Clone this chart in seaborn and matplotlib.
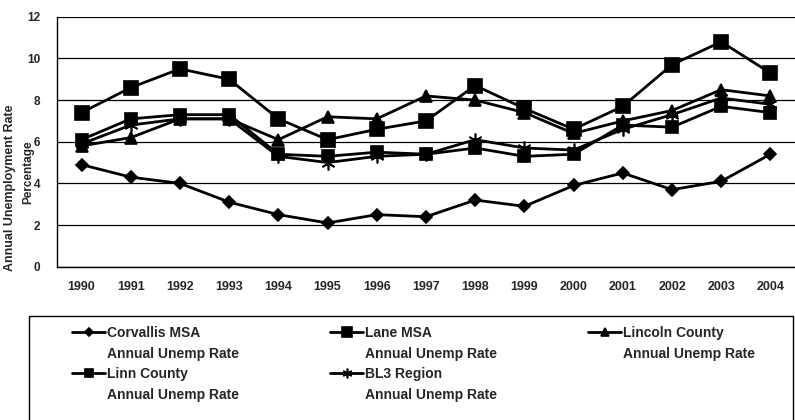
import pandas as pd
import numpy as np
import matplotlib
matplotlib.use("Agg")
import matplotlib.pyplot as plt
from matplotlib.patches import Rectangle
import seaborn as sns

years = list(range(1990, 2005))

corvallis = [4.9, 4.3, 4.0, 3.1, 2.5, 2.1, 2.5, 2.4, 3.2, 2.9, 3.9, 4.5, 3.7, 4.1, 5.4]
lane = [7.4, 8.6, 9.5, 9.0, 7.1, 6.1, 6.6, 7.0, 8.7, 7.6, 6.6, 7.7, 9.7, 10.8, 9.3]
lincoln = [5.8, 6.2, 7.1, 7.1, 6.1, 7.2, 7.1, 8.2, 8.0, 7.4, 6.4, 7.0, 7.5, 8.5, 8.2]
linn = [6.1, 7.1, 7.3, 7.3, 5.4, 5.3, 5.5, 5.4, 5.7, 5.3, 5.4, 6.8, 6.7, 7.7, 7.4]
bl3 = [5.9, 6.8, 7.1, 7.1, 5.3, 5.0, 5.3, 5.4, 6.1, 5.7, 5.6, 6.6, 7.3, 8.1, 7.8]

series_names = ["Corvallis MSA", "Lane MSA", "Lincoln County", "Linn County", "BL3 Region"]
series_sub = "Annual Unemp Rate"
series_values = [corvallis, lane, lincoln, linn, bl3]

sns.set_style("white")
plt.rcParams["font.family"] = ["Liberation Sans Narrow", "Liberation Sans", "DejaVu Sans"]

markers = ["D", "s", "^", "s", (6, 2, 0)]
msizes = [6, 10, 8, 8, 10]

fig = plt.figure(figsize=(7.95, 4.2), dpi=100)
ax = fig.add_axes([0.0717, 0.365, 0.9283, 0.595])

for name, vals, mk, ms in zip(series_names, series_values, markers, msizes):
    df = pd.DataFrame({"year": years, "rate": vals})
    sns.lineplot(data=df, x="year", y="rate", ax=ax, color="black", linewidth=2,
                 marker=mk, markersize=ms, markeredgecolor="black",
                 markeredgewidth=1.2, label=name)

ax.set_xlim(1989.5, 2004.5)
ax.set_ylim(0, 12)
ax.set_yticks(range(0, 13, 2))
ax.set_xticks(years)
ax.set_xticks(np.arange(1989.5, 2005, 1), minor=True)
ax.tick_params(axis="x", which="major", length=0, pad=10, labelsize=9)
ax.tick_params(axis="x", which="minor", length=4, width=1, direction="out", color="black")
ax.tick_params(axis="y", length=4, width=1, direction="out", color="black", labelsize=8.5, pad=8)
for lbl in ax.get_xticklabels() + ax.get_yticklabels():
    lbl.set_fontweight("bold")
ax.yaxis.grid(True, color="black", linewidth=0.9)
for s in ["top", "right"]:
    ax.spines[s].set_visible(False)
for s in ["left", "bottom"]:
    ax.spines[s].set_color("black")
    ax.spines[s].set_linewidth(1)
ax.set_xlabel("")
ax.set_ylabel("")

fig.text(0.012, 0.552, "Annual Unemployment Rate", rotation=90, ha="center", va="center",
         fontsize=9, fontweight="bold")
fig.text(0.036, 0.59, "Percentage", rotation=90, ha="center", va="center",
         fontsize=8.5, fontweight="bold")

# legend box
W, H = 795.0, 420.0
fig.add_artist(Rectangle((29 / W, -0.05), (793 - 29) / W, (1 - 316 / H) + 0.05,
                         transform=fig.transFigure, fill=False, edgecolor="black",
                         linewidth=1, clip_on=False))

h, l = ax.get_legend_handles_labels()
ax.get_legend().remove()
# (handle start x px, first line y px) for each series
slots = [(72, 333), (330, 333), (588, 333), (72, 374), (330, 374)]
legs = []
for hd, lb, (px, py) in zip(h, l, slots):
    leg = fig.legend([hd], [lb], loc="center left", bbox_to_anchor=(px / W, 1 - py / H),
                     frameon=False, fontsize=10, handlelength=2.4, handletextpad=0.15,
                     borderpad=0, borderaxespad=0, markerscale=0.7)
    leg.get_texts()[0].set_fontweight("bold")
    legs.append((leg, py))

fig.canvas.draw()
for leg, py in legs:
    bb = leg.get_texts()[0].get_window_extent()
    fig.text(bb.x0 / W, 1 - (py + 21) / H, series_sub, ha="left", va="center",
             fontsize=10, fontweight="bold")

fig.savefig("out.png", dpi=100)
